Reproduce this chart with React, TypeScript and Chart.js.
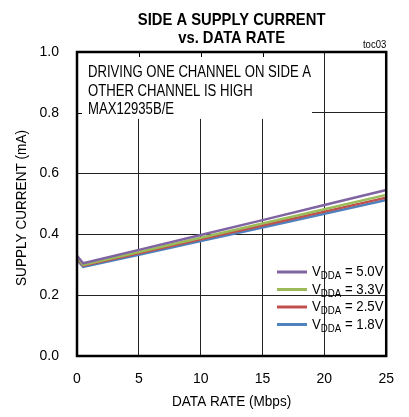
import React, { useEffect, useRef } from "react";
import { Chart, registerables } from "chart.js";

Chart.register(...registerables);

const dataRates = [0, 0.5, 5, 10, 15, 20, 25];
const v50 = [0.330, 0.305, 0.349, 0.398, 0.447, 0.497, 0.546];
const v33 = [0.325, 0.300, 0.342, 0.389, 0.436, 0.483, 0.530];
const v25 = [0.320, 0.297, 0.338, 0.384, 0.429, 0.475, 0.521];
const v18 = [0.316, 0.293, 0.333, 0.378, 0.423, 0.468, 0.513];
const seriesLabels = ["5.0V", "3.3V", "2.5V", "1.8V"];
const seriesColors = ["#8064A2", "#9BBB59", "#C0504D", "#4F81BD"];
const titleLines = ["SIDE A SUPPLY CURRENT", "vs. DATA RATE"];
const noteLines = ["DRIVING ONE CHANNEL ON SIDE A", "OTHER CHANNEL IS HIGH", "MAX12935B/E"];
const xTicks = [0, 5, 10, 15, 20, 25];
const yTicks = [0, 0.2, 0.4, 0.6, 0.8, 1.0];

const FONT = "'Liberation Sans', Arial, sans-serif";

function cText(ctx: any, text: string, x: number, y: number, font: string, align: string, sx: number) {
  ctx.save();
  ctx.font = font;
  const w = ctx.measureText(text).width * sx;
  let x0 = x;
  if (align === "center") x0 = x - w / 2;
  else if (align === "right") x0 = x - w;
  ctx.translate(x0, y);
  ctx.scale(sx, 1);
  ctx.textAlign = "left";
  ctx.fillText(text, 0, 0);
  ctx.restore();
  return w;
}

const decor = {
  id: "decor",
  beforeDatasetsDraw(chart: any) {
    const { ctx, scales } = chart;
    const x = scales.x, y = scales.y;
    const L = chart.chartArea.left, T = chart.chartArea.top;
    ctx.save();
    ctx.fillStyle = "#fff";
    const bx = x.getPixelForValue(19.0);
    const by = y.getPixelForValue(0.78);
    ctx.fillRect(L, T, bx - L, by - T);
    ctx.strokeStyle = "#000";
    ctx.lineWidth = 1;
    ctx.beginPath();
    for (const v of [5, 10, 15]) {
      const px = Math.round(x.getPixelForValue(v)) + 0.5;
      ctx.moveTo(px, T);
      ctx.lineTo(px, T + 5);
    }
    const py = Math.round(y.getPixelForValue(0.8)) + 0.5;
    ctx.moveTo(L, py);
    ctx.lineTo(L + 5, py);
    ctx.stroke();
    ctx.restore();
  },
  afterDatasetsDraw(chart: any) {
    const { ctx, chartArea: a } = chart;
    ctx.save();
    ctx.strokeStyle = "#000";
    ctx.lineWidth = 2.5;
    ctx.strokeRect(a.left, a.top, a.right - a.left, a.bottom - a.top);
    ctx.restore();
  },
  afterDraw(chart: any) {
    const { ctx, chartArea: a } = chart;
    const cx = (a.left + a.right) / 2;
    ctx.save();
    ctx.fillStyle = "#000";
    ctx.textBaseline = "middle";
    cText(ctx, titleLines[0], cx, 20, `bold 17px ${FONT}`, "center", 0.87);
    cText(ctx, titleLines[1], cx, 38.5, `bold 17px ${FONT}`, "center", 0.87);
    cText(ctx, "toc03", a.right, 45, `10px ${FONT}`, "right", 0.95);
    noteLines.forEach((s, i) => cText(ctx, s, 88, 73 + i * 18.5, `16px ${FONT}`, "left", 0.82));
    cText(ctx, "DATA RATE (Mbps)", cx, 402, `14px ${FONT}`, "center", 0.97);
    ctx.save();
    ctx.translate(22, 208);
    ctx.rotate(-Math.PI / 2);
    cText(ctx, "SUPPLY CURRENT (mA)", 0, 0, `14px ${FONT}`, "center", 0.97);
    ctx.restore();
    seriesLabels.forEach((lab, i) => {
      const yy = 272 + i * 17.5;
      ctx.strokeStyle = seriesColors[i];
      ctx.lineWidth = 3;
      ctx.beginPath();
      ctx.moveTo(277, yy);
      ctx.lineTo(307, yy);
      ctx.stroke();
      let xx = 312;
      xx += cText(ctx, "V", xx, yy, `15px ${FONT}`, "left", 0.88);
      xx += cText(ctx, "DDA", xx, yy + 4, `11px ${FONT}`, "left", 0.88);
      cText(ctx, " = " + lab, xx, yy, `15px ${FONT}`, "left", 0.88);
    });
    ctx.restore();
  },
};

export default function App() {
  const ref = useRef<HTMLCanvasElement>(null);
  useEffect(() => {
    document.body.style.margin = "0";
    const series = [v50, v33, v25, v18];
    const chart = new Chart(ref.current!, {
      type: "line",
      data: {
        datasets: series.map((s, i) => ({
          label: seriesLabels[i],
          data: s.map((v, j) => ({ x: dataRates[j], y: v })),
          borderColor: seriesColors[i],
          borderWidth: 2.5,
          pointRadius: 0,
          tension: 0,
          order: i,
        })),
      },
      options: {
        animation: false,
        responsive: false,
        devicePixelRatio: 1,
        layout: { padding: { left: 0, top: 52, right: 17, bottom: 0 } },
        plugins: { legend: { display: false }, title: { display: false }, tooltip: { enabled: false } },
        scales: {
          x: {
            type: "linear",
            min: 0,
            max: 25,
            afterFit: (s: any) => { s.height = 61; },
            afterBuildTicks: (s: any) => { s.ticks = xTicks.map((v) => ({ value: v })); },
            grid: { color: "#222", lineWidth: 1, drawTicks: false },
            border: { display: false },
            ticks: { padding: 15, color: "#000", font: { family: FONT, size: 14 }, callback: (v: any) => String(v) },
          },
          y: {
            type: "linear",
            min: 0,
            max: 1,
            afterFit: (s: any) => { s.width = 77; },
            afterBuildTicks: (s: any) => { s.ticks = yTicks.map((v) => ({ value: v })); },
            grid: { color: "#222", lineWidth: 1, drawTicks: false },
            border: { display: false },
            ticks: { padding: 18, color: "#000", font: { family: FONT, size: 14 }, callback: (v: any) => Number(v).toFixed(1) },
          },
        },
      },
      plugins: [decor],
    });
    return () => chart.destroy();
  }, []);
  return <canvas ref={ref} width={409} height={417} style={{ display: "block" }} />;
}
